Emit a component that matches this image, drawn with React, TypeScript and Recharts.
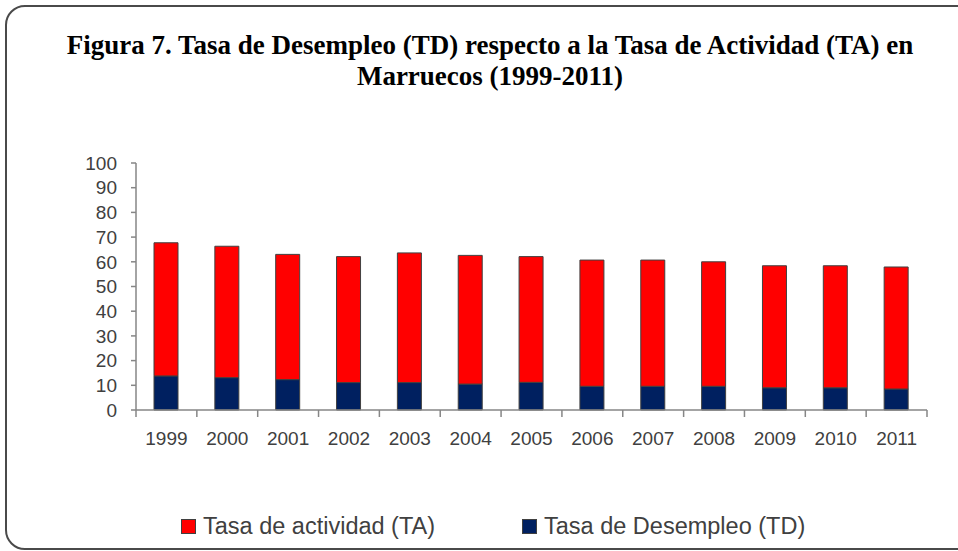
import { Bar, BarChart, Legend, XAxis, YAxis } from "recharts";

const YEARS = ["1999", "2000", "2001", "2002", "2003", "2004", "2005", "2006", "2007", "2008", "2009", "2010", "2011"];
const TASA_DESEMPLEO = [13.8, 13.1, 12.3, 11.1, 11.1, 10.5, 11.2, 9.6, 9.6, 9.6, 9.0, 9.0, 8.5];
const TASA_ACTIVIDAD = [53.9, 53.2, 50.7, 51.0, 52.5, 52.1, 50.9, 51.1, 51.1, 50.4, 49.4, 49.4, 49.4];
const Y_TICKS = [0, 10, 20, 30, 40, 50, 60, 70, 80, 90, 100];

const RED = "#FF0000";
const NAVY = "#002060";
const AXIS = "#868686";
const TEXT = "#404040";
const FONT = "'Liberation Sans', Arial, sans-serif";

const data = YEARS.map((year, i) => ({
  year,
  td: TASA_DESEMPLEO[i],
  ta: TASA_ACTIVIDAD[i],
}));

const LEGEND_ITEMS = [
  { label: "Tasa de actividad (TA)", color: RED, left: 181 },
  { label: "Tasa de Desempleo (TD)", color: NAVY, left: 522 },
];

// x ticks sit between categories, like the spreadsheet original
function YearTick(props: any) {
  const { x, y, payload, index, visibleTicksCount, width } = props;
  const band = width / visibleTicksCount;
  const left = x - band / 2;
  return (
    <g>
      <line x1={left} x2={left} y1={y} y2={y + 7} stroke={AXIS} strokeWidth={1.5} />
      {index === visibleTicksCount - 1 && (
        <line x1={left + band} x2={left + band} y1={y} y2={y + 7} stroke={AXIS} strokeWidth={1.5} />
      )}
      <text x={x} y={y + 35} textAnchor="middle" fill={TEXT} fontSize={19} fontFamily={FONT}>
        {payload.value}
      </text>
    </g>
  );
}

function LegendContent() {
  return (
    <div style={{ position: "relative", height: 40, fontFamily: FONT, fontSize: 23.5, color: TEXT }}>
      {LEGEND_ITEMS.map((item) => (
        <div
          key={item.label}
          style={{ position: "absolute", left: item.left, top: 8, height: 30, lineHeight: "30px", display: "flex", alignItems: "center", whiteSpace: "nowrap" }}
        >
          <span style={{ width: 13, height: 13, background: item.color, border: "1px solid #404040", marginRight: 7 }} />
          <span>{item.label}</span>
        </div>
      ))}
    </div>
  );
}

export default function App() {
  return (
    <div style={{ position: "absolute", left: 0, top: 0, width: 958, height: 551, overflow: "hidden", background: "#fff" }}>
      <div
        style={{
          position: "absolute",
          left: 5,
          top: 5,
          width: 980,
          height: 541,
          border: "2px solid #4a4a4a",
          borderRadius: 20,
        }}
      />
      <div
        style={{
          position: "absolute",
          left: 0,
          top: 30,
          width: 980,
          textAlign: "center",
          fontFamily: "'Liberation Serif', 'Times New Roman', serif",
          fontWeight: "bold",
          fontSize: 27,
          lineHeight: "31px",
          color: "#000",
          whiteSpace: "nowrap",
        }}
      >
        Figura 7. Tasa de Desempleo (TD) respecto a la Tasa de Actividad (TA) en
        <br />
        Marruecos (1999-2011)
      </div>
      <div style={{ position: "absolute", left: 0, top: 0 }}>
        <BarChart width={958} height={551} data={data} margin={{ top: 163, right: 31, bottom: 8, left: 86 }} barSize={24}>
          <XAxis
            dataKey="year"
            height={93}
            tickLine={false}
            tickSize={0}
            tickMargin={0}
            interval={0}
            stroke={AXIS}
            strokeWidth={1.5}
            tick={<YearTick />}
          />
          <YAxis
            width={50}
            domain={[0, 100]}
            ticks={Y_TICKS}
            interval={0}
            stroke={AXIS}
            strokeWidth={1.5}
            tickSize={5}
            tickMargin={14}
            tick={{ fill: TEXT, fontSize: 19, fontFamily: FONT }}
          />
          <Legend
            verticalAlign="bottom"
            height={40}
            wrapperStyle={{ left: 0, width: 958 }}
            content={<LegendContent />}
          />
          <Bar dataKey="td" name="Tasa de Desempleo (TD)" stackId="a" fill={NAVY} stroke="#404040" strokeWidth={1} isAnimationActive={false} />
          <Bar dataKey="ta" name="Tasa de actividad (TA)" stackId="a" fill={RED} stroke="#404040" strokeWidth={1} isAnimationActive={false} />
        </BarChart>
      </div>
    </div>
  );
}
